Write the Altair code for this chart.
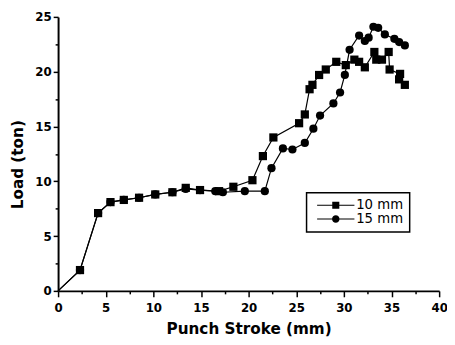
import altair as alt
import pandas as pd

# ---- data ----
series_names = ["10 mm", "15 mm"]

stroke_10 = [0, 2.3, 4.2, 5.5, 6.9, 8.5, 10.2, 12.0, 13.4, 14.9, 16.9, 18.4, 20.4,
             21.5, 22.6, 25.3, 25.9, 26.4, 26.7, 27.4, 28.1, 29.2, 30.2, 31.1, 31.6,
             32.2, 33.2, 33.4, 34.0, 34.7, 34.8, 35.9, 35.8, 36.4]
load_10 = [0, 1.9, 7.1, 8.1, 8.3, 8.5, 8.8, 9.0, 9.4, 9.2, 9.1, 9.5, 10.1,
           12.3, 14.0, 15.3, 16.1, 18.4, 18.8, 19.7, 20.2, 20.9, 20.6, 21.1, 20.9,
           20.4, 21.8, 21.1, 21.1, 21.8, 20.2, 19.8, 19.3, 18.8]

stroke_15 = [0, 2.3, 4.2, 5.5, 6.9, 8.5, 10.2, 12.0, 13.4, 14.9, 16.5, 17.3, 19.6,
             21.7, 22.4, 23.6, 24.6, 25.9, 26.8, 27.5, 28.9, 29.6, 30.1, 30.6, 31.6,
             32.2, 32.6, 33.1, 33.6, 34.3, 35.3, 35.8, 36.4]
load_15 = [0, 1.9, 7.1, 8.1, 8.3, 8.5, 8.8, 9.0, 9.3, 9.2, 9.1, 9.0, 9.1,
           9.1, 11.2, 13.0, 12.9, 13.5, 14.8, 16.0, 17.1, 18.1, 19.7, 22.0, 23.3,
           22.8, 23.1, 24.1, 24.0, 23.4, 23.0, 22.7, 22.4]

x_ticks = [0, 2.5, 5, 7.5, 10, 12.5, 15, 17.5, 20, 22.5, 25, 27.5, 30, 32.5, 35, 37.5, 40]
y_ticks = [0, 2.5, 5, 7.5, 10, 12.5, 15, 17.5, 20, 22.5, 25]

rows = []
for name, xs, ys in [("15 mm", stroke_15, load_15), ("10 mm", stroke_10, load_10)]:
    for i, (x, y) in enumerate(zip(xs, ys)):
        rows.append({"series": name, "i": i, "stroke": x, "load": y})
df = pd.DataFrame(rows)

FONT = "DejaVu Sans"

x_tick_size = {"condition": {"test": "datum.value % 5 === 0", "value": 6}, "value": 3}
y_tick_size = {"condition": {"test": "datum.value % 5 === 0", "value": 5}, "value": 3}
major_only = "datum.value % 5 === 0 ? datum.label : ''"

x_enc = alt.X(
    "stroke:Q",
    scale=alt.Scale(domain=[0, 40], nice=False, zero=False),
    axis=alt.Axis(
        values=x_ticks, labelExpr=major_only, labelOverlap=False, labelFlush=False,
        tickSize=x_tick_size, tickWidth=1.5, tickColor="black",
        domainWidth=2, domainColor="black", grid=False,
        labelFont=FONT, labelFontSize=12, labelFontWeight="bold", labelColor="black",
        labelPadding=6,
        title="Punch Stroke (mm)", titleFont=FONT, titleFontSize=15.5,
        titleFontWeight="bold", titleColor="black", titlePadding=8,
    ),
)
y_enc = alt.Y(
    "load:Q",
    scale=alt.Scale(domain=[0, 25], nice=False),
    axis=alt.Axis(
        values=y_ticks, labelExpr=major_only, labelOverlap=False, labelFlush=False,
        tickSize=y_tick_size, tickWidth=1.5, tickColor="black",
        domainWidth=2, domainColor="black", grid=False,
        labelFont=FONT, labelFontSize=12, labelFontWeight="bold", labelColor="black",
        labelPadding=2,
        title="Load (ton)", titleFont=FONT, titleFontSize=15.5,
        titleFontWeight="bold", titleColor="black", titlePadding=10, titleY=150,
    ),
)

# legend symbols: a line segment (thin filled bars) with the marker in the middle
BAR = "M-4.75,-0.14H-0.9V0.14H-4.75Z M0.9,-0.14H4.75V0.14H0.9Z "
SQ_PATH = BAR + "M-0.9,-0.9H0.9V0.9H-0.9Z"
CI_PATH = BAR + "M0.95,0A0.95,0.95 0 1,1 -0.95,0A0.95,0.95 0 1,1 0.95,0Z"

legend = alt.Legend(
    title=None, orient="none", legendX=253, legendY=179, direction="vertical",
    fillColor="white", strokeColor="black", padding=6,
    symbolSize=64, symbolOffset=17, labelOffset=14, rowPadding=-2,
    symbolStrokeWidth=0, symbolFillColor="black",
    symbolOpacity=1,
    labelFont=FONT, labelFontSize=13.5, labelColor="black",
)

base = alt.Chart(df)

lines = base.mark_line(color="black", strokeWidth=1.2).encode(
    x=x_enc, y=y_enc, detail="series:N", order="i:Q"
)

points = base.transform_filter("datum.i > 0").mark_point(
    filled=True, size=70, opacity=1, color="black"
).encode(
    x=x_enc, y=y_enc,
    shape=alt.Shape("series:N",
                    scale=alt.Scale(domain=series_names, range=["square", "circle"]),
                    legend=None),
)

# legend-only layer (no rows) providing line+marker symbols
legend_layer = base.transform_filter("datum.i < 0").mark_point(
    filled=True, opacity=1, color="black"
).encode(
    x=x_enc, y=y_enc,
    shape=alt.Shape("series:N",
                    scale=alt.Scale(domain=series_names, range=[SQ_PATH, CI_PATH]),
                    legend=legend),
)

chart = alt.layer(lines, points, legend_layer).resolve_scale(shape="independent").properties(
    width=388, height=279,
    autosize=alt.AutoSizeParams(type="none"),
    padding={"left": 51, "top": 6, "right": 8, "bottom": 50},
    background="white",
).configure_view(stroke=None).configure_legend(strokeWidth=1.5)

chart.save("out.html", embed_options={"renderer": "svg", "actions": False})
